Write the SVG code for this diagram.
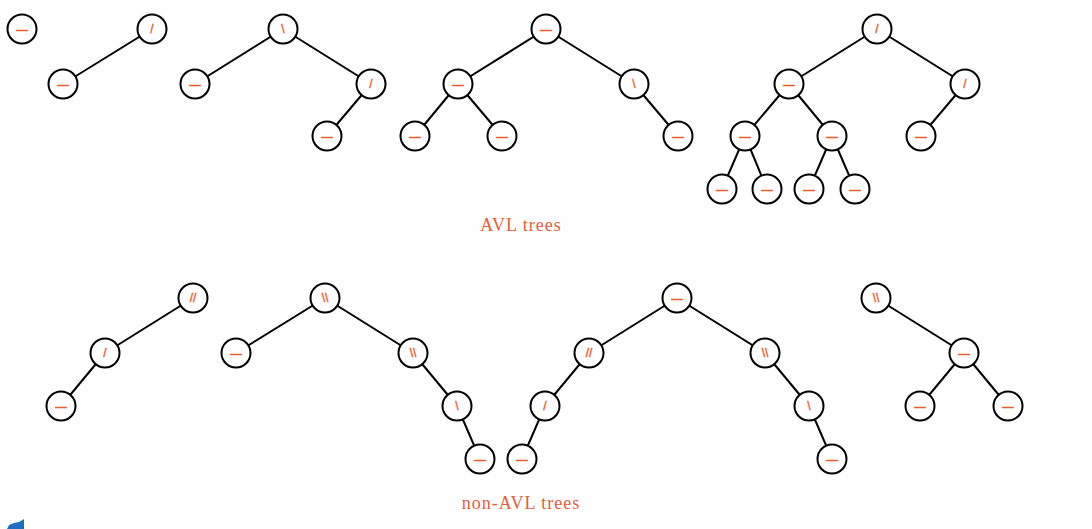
<svg xmlns="http://www.w3.org/2000/svg" width="1092" height="529" viewBox="0 0 1092 529">
<style>
.e line{stroke:#000;stroke-width:2}
.n circle{fill:#fff;stroke:#000;stroke-width:2}
.n text{font-family:"Liberation Sans",Arial,sans-serif;font-size:11px;fill:#ef5a2a;stroke:#ef5a2a;stroke-width:0.8;text-anchor:middle;dominant-baseline:central}
.n text.s{font-size:12px;stroke-width:0.4}
.lbl{font-family:"Liberation Serif","Times New Roman",serif;font-size:18px;fill:#e55d3a;text-anchor:middle;letter-spacing:1px}
</style>
<rect width="1092" height="529" fill="#fff"/>
<g id="connectors" class="e">
<line x1="152" y1="29" x2="63" y2="84"/>
<line x1="283" y1="29" x2="195" y2="84"/>
<line x1="283" y1="29" x2="371" y2="84"/>
<line x1="371" y1="84" x2="327" y2="136"/>
<line x1="546" y1="29" x2="458" y2="84"/>
<line x1="546" y1="29" x2="634" y2="84"/>
<line x1="458" y1="84" x2="415" y2="136"/>
<line x1="458" y1="84" x2="502" y2="136"/>
<line x1="634" y1="84" x2="678" y2="136"/>
<line x1="877" y1="29" x2="789" y2="84"/>
<line x1="877" y1="29" x2="965" y2="84"/>
<line x1="789" y1="84" x2="745" y2="136"/>
<line x1="789" y1="84" x2="832" y2="136"/>
<line x1="965" y1="84" x2="921" y2="136"/>
<line x1="745" y1="136" x2="722" y2="189"/>
<line x1="745" y1="136" x2="767" y2="189"/>
<line x1="832" y1="136" x2="809" y2="189"/>
<line x1="832" y1="136" x2="855" y2="189"/>
<line x1="193" y1="298" x2="105" y2="353"/>
<line x1="105" y1="353" x2="61" y2="406"/>
<line x1="325" y1="298" x2="236" y2="353"/>
<line x1="325" y1="298" x2="413" y2="353"/>
<line x1="413" y1="353" x2="457" y2="406"/>
<line x1="457" y1="406" x2="480" y2="459"/>
<line x1="677" y1="298" x2="589" y2="353"/>
<line x1="677" y1="298" x2="765" y2="353"/>
<line x1="589" y1="353" x2="545" y2="406"/>
<line x1="545" y1="406" x2="522" y2="459"/>
<line x1="765" y1="353" x2="809" y2="406"/>
<line x1="809" y1="406" x2="832" y2="459"/>
<line x1="876" y1="298" x2="964" y2="353"/>
<line x1="964" y1="353" x2="920" y2="406"/>
<line x1="964" y1="353" x2="1008" y2="406"/>
</g>
<g id="t1n1" class="n"><circle cx="22" cy="29" r="14.5"/><text x="22" y="29">—</text></g>
<g id="t2n1" class="n"><circle cx="152" cy="29" r="14.5"/><text class="s" x="152" y="29">/</text></g>
<g id="t2n2" class="n"><circle cx="63" cy="84" r="14.5"/><text x="63" y="84">—</text></g>
<g id="t3n1" class="n"><circle cx="283" cy="29" r="14.5"/><text class="s" x="283" y="29">\</text></g>
<g id="t3n2" class="n"><circle cx="195" cy="84" r="14.5"/><text x="195" y="84">—</text></g>
<g id="t3n3" class="n"><circle cx="371" cy="84" r="14.5"/><text class="s" x="371" y="84">/</text></g>
<g id="t3n4" class="n"><circle cx="327" cy="136" r="14.5"/><text x="327" y="136">—</text></g>
<g id="t4n1" class="n"><circle cx="546" cy="29" r="14.5"/><text x="546" y="29">—</text></g>
<g id="t4n2" class="n"><circle cx="458" cy="84" r="14.5"/><text x="458" y="84">—</text></g>
<g id="t4n3" class="n"><circle cx="634" cy="84" r="14.5"/><text class="s" x="634" y="84">\</text></g>
<g id="t4n4" class="n"><circle cx="415" cy="136" r="14.5"/><text x="415" y="136">—</text></g>
<g id="t4n5" class="n"><circle cx="502" cy="136" r="14.5"/><text x="502" y="136">—</text></g>
<g id="t4n6" class="n"><circle cx="678" cy="136" r="14.5"/><text x="678" y="136">—</text></g>
<g id="t5n1" class="n"><circle cx="877" cy="29" r="14.5"/><text class="s" x="877" y="29">/</text></g>
<g id="t5n2" class="n"><circle cx="789" cy="84" r="14.5"/><text x="789" y="84">—</text></g>
<g id="t5n3" class="n"><circle cx="965" cy="84" r="14.5"/><text class="s" x="965" y="84">/</text></g>
<g id="t5n4" class="n"><circle cx="745" cy="136" r="14.5"/><text x="745" y="136">—</text></g>
<g id="t5n5" class="n"><circle cx="832" cy="136" r="14.5"/><text x="832" y="136">—</text></g>
<g id="t5n6" class="n"><circle cx="921" cy="136" r="14.5"/><text x="921" y="136">—</text></g>
<g id="t5n7" class="n"><circle cx="722" cy="189" r="14.5"/><text x="722" y="189">—</text></g>
<g id="t5n8" class="n"><circle cx="767" cy="189" r="14.5"/><text x="767" y="189">—</text></g>
<g id="t5n9" class="n"><circle cx="809" cy="189" r="14.5"/><text x="809" y="189">—</text></g>
<g id="t5n10" class="n"><circle cx="855" cy="189" r="14.5"/><text x="855" y="189">—</text></g>
<text id="label-avl" class="lbl" x="521" y="231">AVL trees</text>
<g id="u1n1" class="n"><circle cx="193" cy="298" r="14.5"/><text class="s" x="193" y="298">//</text></g>
<g id="u1n2" class="n"><circle cx="105" cy="353" r="14.5"/><text class="s" x="105" y="353">/</text></g>
<g id="u1n3" class="n"><circle cx="61" cy="406" r="14.5"/><text x="61" y="406">—</text></g>
<g id="u2n1" class="n"><circle cx="325" cy="298" r="14.5"/><text class="s" x="325" y="298">\\</text></g>
<g id="u2n2" class="n"><circle cx="236" cy="353" r="14.5"/><text x="236" y="353">—</text></g>
<g id="u2n3" class="n"><circle cx="413" cy="353" r="14.5"/><text class="s" x="413" y="353">\\</text></g>
<g id="u2n4" class="n"><circle cx="457" cy="406" r="14.5"/><text class="s" x="457" y="406">\</text></g>
<g id="u2n5" class="n"><circle cx="480" cy="459" r="14.5"/><text x="480" y="459">—</text></g>
<g id="u3n1" class="n"><circle cx="677" cy="298" r="14.5"/><text x="677" y="298">—</text></g>
<g id="u3n2" class="n"><circle cx="589" cy="353" r="14.5"/><text class="s" x="589" y="353">//</text></g>
<g id="u3n3" class="n"><circle cx="765" cy="353" r="14.5"/><text class="s" x="765" y="353">\\</text></g>
<g id="u3n4" class="n"><circle cx="545" cy="406" r="14.5"/><text class="s" x="545" y="406">/</text></g>
<g id="u3n5" class="n"><circle cx="522" cy="459" r="14.5"/><text x="522" y="459">—</text></g>
<g id="u3n6" class="n"><circle cx="809" cy="406" r="14.5"/><text class="s" x="809" y="406">\</text></g>
<g id="u3n7" class="n"><circle cx="832" cy="459" r="14.5"/><text x="832" y="459">—</text></g>
<g id="u4n1" class="n"><circle cx="876" cy="298" r="14.5"/><text class="s" x="876" y="298">\\</text></g>
<g id="u4n2" class="n"><circle cx="964" cy="353" r="14.5"/><text x="964" y="353">—</text></g>
<g id="u4n3" class="n"><circle cx="920" cy="406" r="14.5"/><text x="920" y="406">—</text></g>
<g id="u4n4" class="n"><circle cx="1008" cy="406" r="14.5"/><text x="1008" y="406">—</text></g>
<text id="label-nonavl" class="lbl" x="521" y="509">non-AVL trees</text>
<polygon points="7,529 9,525 14,523 19,522 24,519 24,529" fill="#1a6fc0"/>
</svg>
